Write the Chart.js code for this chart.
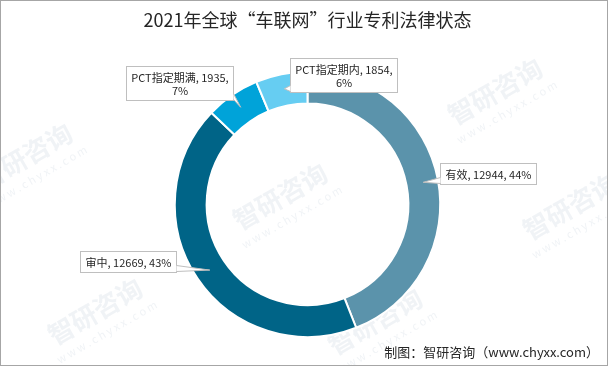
<!DOCTYPE html>
<html>
<head>
<meta charset="utf-8">
<script src="https://cdn.jsdelivr.net/npm/chart.js@4/dist/chart.umd.min.js"></script>
<style>
  html, body { margin: 0; padding: 0; background: #ffffff; }
  #wrap { width: 608px; height: 366px; }
</style>
</head>
<body>
<div id="wrap"><canvas id="myChart" width="608" height="366"></canvas></div>
<script>
var categories = ['有效', '审中', 'PCT指定期满', 'PCT指定期内'];
var patentCounts = [12944, 12669, 1935, 1854];
var sliceColors = ['#5b93ab', '#006487', '#00a3d9', '#66cdf2'];

var titleText = '2021年全球“车联网”行业专利法律状态';
var sourceText = '制图：智研咨询（www.chyxx.com）';

// box centre offsets from the slice anchor point, per slice
var labelOffsets = [[65, -9], [-82, -9], [-61, -24], [59, -14]];

var FONT = '"Noto Sans CJK SC", "Microsoft YaHei", sans-serif';

var total = patentCounts.reduce(function(a, b) { return a + b; }, 0);

var calloutPlugin = {
  id: 'callouts',
  afterDatasetsDraw: function(chart) {
    var ctx = chart.ctx;
    var meta = chart.getDatasetMeta(0);
    ctx.save();
    ctx.font = '11px ' + FONT;
    meta.data.forEach(function(arc, i) {
      var mid = (arc.startAngle + arc.endAngle) / 2;
      var r = (arc.innerRadius + arc.outerRadius) / 2 + 1;
      var ax = arc.x + Math.cos(mid) * r;
      var ay = arc.y + Math.sin(mid) * r;

      var pct = Math.round(patentCounts[i] / total * 100) + '%';
      var full = categories[i] + ', ' + patentCounts[i] + ', ' + pct;
      var lines = [full];
      if (ctx.measureText(full).width > 100) {
        lines = [categories[i] + ', ' + patentCounts[i] + ',', pct];
      }
      var w = 0;
      lines.forEach(function(l) { w = Math.max(w, ctx.measureText(l).width); });
      w = Math.round(w + 10);
      var lh = 13;
      var h = lines.length * lh + 8;
      var cx = ax + labelOffsets[i][0];
      var cy = ay + labelOffsets[i][1];
      var left = Math.round(cx - w / 2) + 0.5;
      var top = Math.round(cy - h / 2) + 0.5;

      ctx.fillStyle = '#ffffff';
      ctx.strokeStyle = '#bfbfbf';
      ctx.lineWidth = 1;
      ctx.fillRect(left, top, w, h);
      ctx.strokeRect(left, top, w, h);

      // pointer wedge from box edge to anchor
      var b1, b2;
      if (ax < left) {
        var by = Math.min(Math.max(ay, top + 4), top + h - 4);
        b1 = [left, by - 3]; b2 = [left, by + 3];
      } else if (ax > left + w) {
        var by2 = Math.min(Math.max(ay, top + 4), top + h - 4);
        b1 = [left + w, by2 - 3]; b2 = [left + w, by2 + 3];
      } else {
        var bx = Math.min(Math.max(ax, left + 4), left + w - 4);
        b1 = [bx - 3, top + h]; b2 = [bx + 3, top + h];
      }
      ctx.beginPath();
      ctx.moveTo(b1[0], b1[1]);
      ctx.lineTo(ax, ay);
      ctx.lineTo(b2[0], b2[1]);
      ctx.closePath();
      ctx.fill();
      ctx.beginPath();
      ctx.moveTo(b1[0], b1[1]);
      ctx.lineTo(ax, ay);
      ctx.lineTo(b2[0], b2[1]);
      ctx.stroke();

      ctx.fillStyle = '#262626';
      ctx.textAlign = 'center';
      ctx.textBaseline = 'middle';
      lines.forEach(function(l, k) {
        ctx.fillText(l, left + w / 2, top + 4 + lh / 2 + k * lh + 0.5);
      });
    });
    ctx.restore();
  }
};

var framePlugin = {
  id: 'frame',
  beforeDraw: function(chart) {
    var ctx = chart.ctx;
    ctx.save();
    ctx.fillStyle = '#ffffff';
    ctx.fillRect(0, 0, chart.width, chart.height);
    // faint watermarks
    ctx.fillStyle = 'rgba(200, 212, 224, 0.28)';
    [[30, 165], [285, 205], [500, 100], [575, 215], [100, 320], [380, 330]].forEach(function(p) {
      ctx.save();
      ctx.translate(p[0], p[1]);
      ctx.rotate(-Math.PI / 6);
      ctx.textAlign = 'center';
      ctx.font = 'bold 26px ' + FONT;
      ctx.fillText('智研咨询', 0, 0);
      ctx.font = '11px ' + FONT;
      ctx.fillText('w w w . c h y x x . c o m', 0, 18);
      ctx.restore();
    });
    ctx.restore();
  },
  afterDraw: function(chart) {
    var ctx = chart.ctx;
    ctx.save();
    ctx.strokeStyle = '#a6a6a6';
    ctx.lineWidth = 1;
    ctx.strokeRect(0.5, 0.5, chart.width - 1, chart.height - 1);
    ctx.fillStyle = '#262626';
    ctx.font = '13px ' + FONT;
    ctx.textAlign = 'right';
    ctx.textBaseline = 'middle';
    ctx.fillText(sourceText, 599, 352);
    ctx.restore();
  }
};

var chart = new Chart(document.getElementById('myChart'), {
  type: 'doughnut',
  data: {
    labels: categories,
    datasets: [{
      data: patentCounts,
      backgroundColor: sliceColors,
      borderColor: '#ffffff',
      borderWidth: 2,
      hoverOffset: 0
    }]
  },
  options: {
    responsive: false,
    animation: false,
    events: [],
    cutout: '76%',
    rotation: 0,
    layout: {
      padding: { top: 0, bottom: 28, left: 7, right: 0 }
    },
    plugins: {
      legend: { display: false },
      tooltip: { enabled: false },
      title: {
        display: true,
        text: titleText,
        color: '#262626',
        font: { family: FONT, size: 18, weight: 'normal' },
        padding: { top: 9, bottom: 40 }
      }
    }
  },
  plugins: [framePlugin, calloutPlugin]
});
</script>
</body>
</html>
